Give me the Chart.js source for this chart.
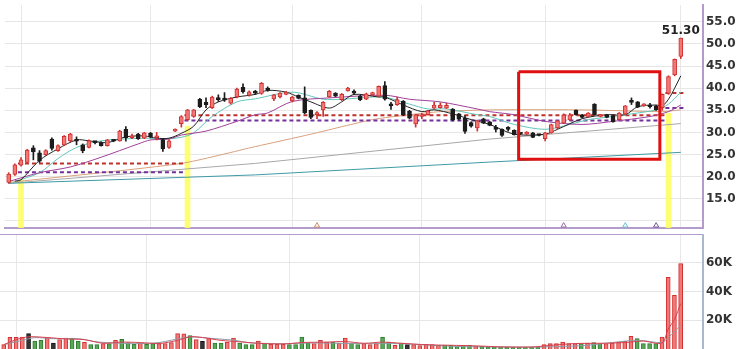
<!DOCTYPE html>
<html>
<head>
<meta charset="utf-8">
<script src="https://cdn.jsdelivr.net/npm/chart.js@4.4.1/dist/chart.umd.min.js"></script>
<style>
  html, body { margin: 0; padding: 0; background: #fff; }
  #pricePanel { position: absolute; left: 0; top: 0; width: 740px; height: 233px; }
  #volPanel { position: absolute; left: 0; top: 234px; width: 740px; height: 115px; }
</style>
</head>
<body>
<div id="pricePanel"><canvas id="priceChart"></canvas></div>
<div id="volPanel"><canvas id="volChart"></canvas></div>
<script>
// daily candles (index 0 = first day shown)
const opens = [18.7, 20.5, 22.6, 23.2, 26.5, 25.4, 25.0, 28.5, 25.9, 27.2,
  28.1, 28.1, 27.2, 26.6, 27.8, 27.7, 27.0, 28.1, 28.1, 30.7,
  28.8, 29.6, 28.7, 29.8, 28.8, 28.4, 26.6, 30.3, 32.0, 32.9,
  33.6, 37.5, 36.8, 35.6, 37.6, 37.6, 36.6, 38.0, 40.2, 38.4,
  39.2, 38.8, 40.0, 37.6, 38.0, 38.6, 37.1, 38.4, 37.8, 35.0,
  34.0, 35.1, 38.0, 38.9, 37.4, 39.4, 39.2, 38.2, 37.5, 38.5,
  38.2, 40.6, 36.3, 36.3, 37.1, 34.8, 31.9, 33.6, 34.0, 35.5,
  35.6, 35.5, 35.3, 34.2, 33.2, 32.2, 31.0, 33.1, 32.4, 30.9,
  30.7, 30.8, 30.5, 29.7, 29.6, 29.9, 29.4, 28.6, 29.9, 31.0,
  32.1, 32.8, 35.0, 34.0, 33.6, 36.4, 33.6, 34.0, 33.8, 32.9,
  34.1, 37.0, 36.9, 36.0, 36.0, 36.0, 35.6, 38.8, 43.0, 47.2];
const closes = [20.6, 22.7, 23.8, 26.0, 25.6, 23.5, 25.9, 26.4, 27.0, 29.1,
  29.6, 28.0, 25.9, 28.1, 27.7, 27.0, 28.3, 28.0, 30.3, 28.8,
  29.2, 28.6, 29.9, 29.0, 28.9, 26.3, 28.1, 30.7, 33.6, 35.1,
  35.1, 35.8, 36.3, 38.0, 37.4, 37.3, 37.7, 39.8, 39.2, 39.2,
  38.9, 41.1, 39.5, 38.5, 38.9, 39.1, 38.0, 37.7, 34.4, 33.4,
  34.5, 36.8, 39.3, 38.2, 38.6, 40.0, 38.9, 37.4, 38.7, 39.0,
  40.4, 37.5, 36.0, 37.4, 34.0, 33.2, 34.0, 34.0, 34.9, 36.2,
  36.2, 36.1, 32.8, 33.0, 30.2, 31.4, 32.6, 32.1, 31.6, 30.7,
  29.3, 30.7, 29.5, 29.6, 30.1, 28.9, 29.3, 29.9, 31.8, 32.6,
  33.9, 34.0, 34.0, 33.4, 34.4, 34.0, 34.0, 33.4, 32.4, 34.4,
  36.0, 36.8, 35.7, 36.4, 35.8, 35.1, 38.6, 42.6, 46.5, 51.3];
const highs = [20.9, 22.9, 24.3, 26.2, 27.0, 25.9, 26.1, 28.8, 27.2, 29.3,
  29.8, 29.0, 27.4, 28.3, 28.0, 27.9, 28.4, 28.2, 30.5, 31.3,
  29.6, 29.8, 30.0, 30.0, 30.0, 28.6, 28.3, 30.8, 33.8, 35.2,
  35.2, 37.7, 37.8, 38.2, 38.5, 39.0, 37.9, 40.0, 41.0, 39.4,
  39.5, 41.3, 40.3, 38.6, 39.0, 39.3, 38.2, 38.5, 40.3, 35.1,
  34.7, 37.0, 39.5, 39.0, 38.8, 40.2, 39.6, 38.4, 38.9, 39.1,
  40.5, 41.5, 36.8, 38.0, 37.2, 35.0, 34.1, 34.3, 35.0, 36.8,
  36.7, 36.6, 35.4, 34.3, 33.8, 32.4, 32.8, 33.2, 32.5, 31.6,
  30.8, 31.3, 30.6, 29.8, 30.2, 30.0, 29.5, 30.0, 31.9, 32.7,
  34.2, 34.3, 35.1, 34.1, 34.5, 36.5, 34.1, 34.1, 33.9, 34.5,
  36.1, 37.8, 37.0, 36.5, 36.6, 36.1, 38.7, 42.8, 46.6, 51.3];
const lows = [18.5, 20.3, 22.4, 23.0, 23.8, 23.2, 24.8, 26.0, 25.7, 27.0,
  27.9, 27.2, 25.4, 26.5, 27.4, 26.9, 26.9, 27.9, 28.0, 28.0,
  28.6, 28.4, 28.6, 28.8, 28.3, 25.7, 26.4, 30.2, 31.2, 32.7,
  33.4, 35.6, 35.6, 35.4, 37.0, 37.0, 36.4, 37.8, 38.9, 38.2,
  38.6, 38.6, 39.3, 37.2, 37.8, 38.5, 36.9, 37.6, 34.2, 33.1,
  33.1, 33.6, 37.9, 38.1, 37.2, 39.3, 38.6, 37.2, 37.4, 38.4,
  38.1, 37.3, 35.2, 36.1, 33.8, 33.1, 31.2, 33.1, 33.9, 35.4,
  35.5, 35.4, 32.6, 32.8, 29.8, 31.2, 30.3, 32.0, 31.5, 30.1,
  29.1, 30.3, 29.4, 29.5, 29.5, 28.8, 29.2, 28.1, 29.8, 30.8,
  32.0, 32.7, 33.9, 33.3, 33.5, 33.9, 33.5, 33.3, 32.3, 32.8,
  34.0, 36.3, 35.6, 35.9, 35.5, 35.0, 35.0, 38.6, 42.8, 46.7];

// volume (shares) and bar colour code: r = red, g = green, k = black
const volumes = [3000, 8100, 8100, 8400, 10700, 5600, 6000, 7900, 4200, 6500,
  7700, 7700, 5400, 4700, 3000, 3000, 3700, 3700, 6000, 6700,
  4400, 3300, 4200, 3300, 3700, 3700, 3700, 4400, 10700, 10500,
  9300, 6500, 5400, 7200, 4200, 4200, 4900, 7700, 4200, 3000,
  3000, 5600, 4200, 3300, 3300, 3300, 3000, 3000, 8400, 4200,
  3700, 6000, 4900, 4900, 4200, 7700, 4200, 3000, 3700, 3000,
  3700, 8400, 4900, 2600, 4200, 3000, 3000, 2300, 3300, 3000,
  2600, 2600, 2600, 1900, 2600, 2600, 1900, 1900, 1400, 1400,
  1400, 1400, 1400, 1400, 1400, 1400, 1200, 3000, 3700, 3700,
  4900, 3700, 3700, 3700, 4200, 4400, 3700, 3700, 4200, 4900,
  5400, 8800, 7200, 3700, 3700, 3700, 8400, 50000, 37400, 59500];
const volColors = ['rrrrkggrkr', 'rggrggrgrg', 'ggrggrrrrr', 'grkrggrrgg', 'grgrrrgggg',
  'rrrgrrggrr', 'rggrgkrrrr', 'rgggggrggg', 'gggggggrrr', 'rrrgrggrrr', 'rrggggrrrr'].join('');

// moving averages as [day index, value]
const maBlack = [[1, 19.0], [2, 19.3], [5, 23.7], [8, 26.3], [11, 28.3], [13, 28.1], [16, 27.7], [19, 29.0], [22, 29.2],
  [24, 28.7], [26, 28.7], [28, 29.8], [30, 31.4], [32, 35.1], [34, 36.9], [37, 38.0], [40, 38.6], [42, 39.5],
  [45, 39.1], [47, 38.0], [49, 36.9], [52, 35.5], [54, 36.9], [56, 38.6], [60, 38.0], [61, 38.0], [64, 36.2],
  [67, 34.7], [69, 35.1], [72, 34.2], [75, 32.9], [78, 31.8], [82, 29.6], [87, 29.6], [89, 30.7], [93, 33.1],
  [97, 34.0], [100, 34.0], [102, 35.8], [105, 36.2], [106, 36.0], [107, 37.5], [108, 40.0], [109, 42.8]];
const maTeal = [[1, 18.9], [5, 20.9], [8, 24.1], [11, 26.6], [15, 28.1], [22, 28.7], [25, 28.5], [28, 28.9],
  [30, 29.9], [33, 33.6], [37, 36.9], [40, 37.6], [46, 39.1], [51, 37.5], [54, 37.5], [59, 38.0], [61, 38.0],
  [65, 36.4], [68, 35.3], [71, 35.3], [76, 34.0], [78, 33.6], [82, 31.8], [87, 30.7], [91, 31.8], [94, 32.9],
  [98, 33.6], [101, 34.2], [105, 35.1], [107, 36.4], [109, 39.1]];
const maPurple = [[0, 18.9], [5, 20.9], [10, 22.2], [15, 24.4], [21, 27.4], [23, 28.3], [26, 28.5], [28, 29.4],
  [32, 30.3], [37, 32.5], [40, 34.0], [42, 34.4], [46, 37.0], [52, 37.8], [61, 38.4], [65, 37.5], [70, 36.9],
  [76, 35.3], [78, 34.7], [82, 34.0], [87, 32.5], [93, 31.8], [98, 32.5], [104, 33.6], [107, 34.7], [109, 36.2]];
const maOrange = [[0, 18.7], [28, 23.0], [40, 26.8], [49, 29.6], [59, 32.9], [65, 34.0], [70, 34.7], [78, 35.1],
  [93, 35.1], [106, 34.7], [109, 35.1]];
const maGray = [[0, 18.5], [40, 23.0], [78, 28.5], [109, 32.0]];
const maDark = [[0, 18.5], [40, 20.4], [78, 23.3], [109, 25.5]];

const volMaRed = [[0, 3000], [2, 6500], [4, 8500], [7, 8000], [10, 7000], [13, 6500], [16, 4000], [19, 4800],
  [22, 4500], [25, 3800], [28, 6000], [30, 8500], [32, 8000], [35, 6000], [38, 5000], [41, 4000], [45, 3500],
  [48, 4500], [52, 4800], [55, 5200], [58, 4000], [61, 4800], [64, 4000], [68, 3000], [72, 2600], [76, 2200],
  [80, 1500], [85, 1400], [88, 2500], [92, 3800], [96, 4000], [100, 4500], [103, 5500], [106, 4200],
  [107, 13900], [108, 20600], [109, 31600]];
const volMaGray = [[0, 3000], [3, 6000], [5, 7900], [8, 7200], [12, 7200], [15, 5000], [18, 4200], [21, 3700],
  [25, 4500], [27, 6100], [30, 8400], [34, 7200], [37, 6100], [40, 4200], [45, 3700], [50, 4200], [58, 3700],
  [64, 3700], [72, 1900], [80, 1400], [87, 1400], [94, 2600], [102, 6100], [106, 4500], [107, 8000],
  [108, 12000], [109, 16500]];

// dashed levels: [from index, to index, price]
const redLevels = [[1.5, 28.5, 23.0], [28.5, 106.5, 33.9], [106.5, 109.5, 38.9]];
const purpleLevels = [[1.5, 28.5, 21.0], [28.5, 106.5, 32.7], [106.5, 109.5, 35.5]];

// yellow signal days: [index, top price]
const highlights = [[2, 19.3], [29, 31.4], [107, 34.3]];
// small markers along the bottom: [index, colour]
const markers = [[50, '#c8906a'], [90, '#9a6aa6'], [100, '#6cc0cc'], [105, '#7a5a9a']];
// the red box drawn on the chart: [index, price] corners
const boxCorners = [[82.7, 43.7], [105.6, 43.7], [105.6, 23.95], [82.7, 23.95], [82.7, 43.7]];

const monthStarts = [2, 23, 46, 67, 87, 109];
const priceTicks = [10, 15, 20, 25, 30, 35, 40, 45, 50, 55];
const volTicks = [20000, 40000, 60000];

const RED = '#f27878', RED_EDGE = '#cf3030', BLACK = '#1c1c1c';
const GREEN = '#58a858', GREEN_EDGE = '#2f7a2f';
const axisFont = { family: 'DejaVu Sans', size: 12, weight: 'bold' };

const idx = opens.map((_, i) => i);
const isUp = idx.map(i => closes[i] >= opens[i]);
const pts = arr => arr.map(p => ({ x: p[0], y: p[1] }));
const levelLine = arr => {
  const out = [];
  arr.forEach(s => { out.push({ x: s[0], y: s[2] }, { x: s[1], y: s[2] }, { x: s[1], y: null }); });
  return out;
};
const maLine = (data, color, order, tension) => ({
  type: 'line', data: pts(data), borderColor: color, borderWidth: 1,
  pointRadius: 0, tension: tension, order: order
});
// no extra room round the plot for tick labels
const noPad = a => { a.paddingTop = 0; a.paddingBottom = 0; a.paddingLeft = 0; a.paddingRight = 0; };

const xAxis = (pos, borderColor) => ({
  type: 'linear', position: pos, min: -0.6, max: 112.6, offset: false,
  afterBuildTicks: a => { a.ticks = monthStarts.map(v => ({ value: v })); },
  afterFit: a => { a.height = 0; noPad(a); },
  ticks: { display: false },
  grid: { color: '#e8e8e8', drawTicks: false, offset: false },
  border: { display: true, color: borderColor, width: 2 }
});

// price label over the last candle
const lastLabel = {
  id: 'lastLabel',
  afterDatasetsDraw(chart) {
    const n = closes.length - 1;
    const x = chart.scales.x.getPixelForValue(n);
    const y = chart.scales.y.getPixelForValue(highs[n]);
    const ctx = chart.ctx;
    ctx.save();
    ctx.font = 'bold 12px "DejaVu Sans"';
    ctx.fillStyle = '#222';
    ctx.textAlign = 'center';
    ctx.textBaseline = 'bottom';
    ctx.fillText(closes[n].toFixed(2), x, y - 1);
    ctx.restore();
  }
};

const priceChart = new Chart(document.getElementById('priceChart'), {
  type: 'line',
  data: {
    datasets: [
      {
        type: 'bar', data: highlights.map(h => ({ x: h[0], y: [8.4, h[1]] })),
        backgroundColor: 'rgba(255,255,90,0.85)', barThickness: 5, grouped: false, order: 20
      },
      maLine(maDark, '#3f9aa6', 15, 0),
      maLine(maGray, '#a8a8a8', 15, 0),
      maLine(maOrange, '#d9a07c', 15, 0.2),
      {
        type: 'line', data: levelLine(redLevels), borderColor: '#c0302a', borderWidth: 2,
        borderDash: [4, 3], pointRadius: 0, spanGaps: false, order: 9
      },
      {
        type: 'line', data: levelLine(purpleLevels), borderColor: '#74309a', borderWidth: 2,
        borderDash: [4, 3], pointRadius: 0, spanGaps: false, order: 9
      },
      maLine(maPurple, '#a0409a', 7, 0.3),
      maLine(maTeal, '#62c6bc', 7, 0.3),
      maLine(maBlack, '#222', 6, 0.3),
      {
        type: 'bar', data: idx.map(i => ({ x: i, y: [lows[i], highs[i]] })),
        backgroundColor: idx.map(i => isUp[i] ? RED_EDGE : BLACK),
        barThickness: 1, grouped: false, minBarLength: 1, order: 4
      },
      {
        type: 'bar', data: idx.map(i => ({ x: i, y: [opens[i], closes[i]] })),
        backgroundColor: idx.map(i => isUp[i] ? RED : BLACK),
        borderColor: idx.map(i => isUp[i] ? RED_EDGE : BLACK),
        borderWidth: 1, borderSkipped: false, barThickness: 4, grouped: false, minBarLength: 2, order: 3
      },
      {
        type: 'scatter', data: markers.map(m => ({ x: m[0], y: 8.95 })),
        pointStyle: 'triangle', pointRadius: 3, borderWidth: 1,
        borderColor: markers.map(m => m[1]), backgroundColor: 'rgba(255,255,255,0)', order: 2
      },
      {
        type: 'line', data: pts(boxCorners), borderColor: '#e01010', borderWidth: 3,
        borderJoinStyle: 'miter', pointRadius: 0, tension: 0, order: 1
      }
    ]
  },
  options: {
    responsive: true, maintainAspectRatio: false, animation: false, devicePixelRatio: 1,
    layout: { padding: { left: 0, right: 0, top: 0, bottom: 3 } },
    plugins: { legend: { display: false }, tooltip: { enabled: false } },
    scales: {
      x: xAxis('bottom', '#b39bcc'),
      y: {
        position: 'right', min: 8.4, max: 58.8,
        afterBuildTicks: a => { a.ticks = priceTicks.map(v => ({ value: v })); },
        afterFit: a => { a.width = 37; noPad(a); },
        ticks: { padding: 3, color: '#333', font: axisFont, callback: v => v >= 15 ? v.toFixed(1) : '' },
        grid: { color: '#e6e6e6', drawTicks: false },
        border: { color: '#b39bcc', width: 2 }
      }
    }
  },
  plugins: [lastLabel]
});

const volChart = new Chart(document.getElementById('volChart'), {
  type: 'line',
  data: {
    datasets: [
      maLine(volMaGray, '#8e9aa6', 2, 0.3),
      maLine(volMaRed, '#d8404e', 1, 0.3),
      {
        type: 'bar', data: idx.map(i => ({ x: i, y: volumes[i] })),
        backgroundColor: idx.map(i => volColors[i] === 'r' ? RED : volColors[i] === 'g' ? GREEN : '#333'),
        borderColor: idx.map(i => volColors[i] === 'r' ? RED_EDGE : volColors[i] === 'g' ? GREEN_EDGE : '#111'),
        borderWidth: 1, borderSkipped: 'start', barThickness: 4, grouped: false, order: 3
      }
    ]
  },
  options: {
    responsive: true, maintainAspectRatio: false, animation: false, devicePixelRatio: 1,
    layout: { padding: 0 },
    plugins: { legend: { display: false }, tooltip: { enabled: false } },
    scales: {
      x: xAxis('top', '#b39bcc'),
      y: {
        position: 'right', min: 0, max: 80200,
        afterBuildTicks: a => { a.ticks = volTicks.map(v => ({ value: v })); },
        afterFit: a => { a.width = 37; noPad(a); },
        ticks: { padding: 3, color: '#333', font: axisFont, callback: v => (v / 1000) + 'K' },
        grid: { color: '#e6e6e6', drawTicks: false },
        border: { color: '#a9b8cc', width: 2 }
      }
    }
  }
});
</script>
</body>
</html>
